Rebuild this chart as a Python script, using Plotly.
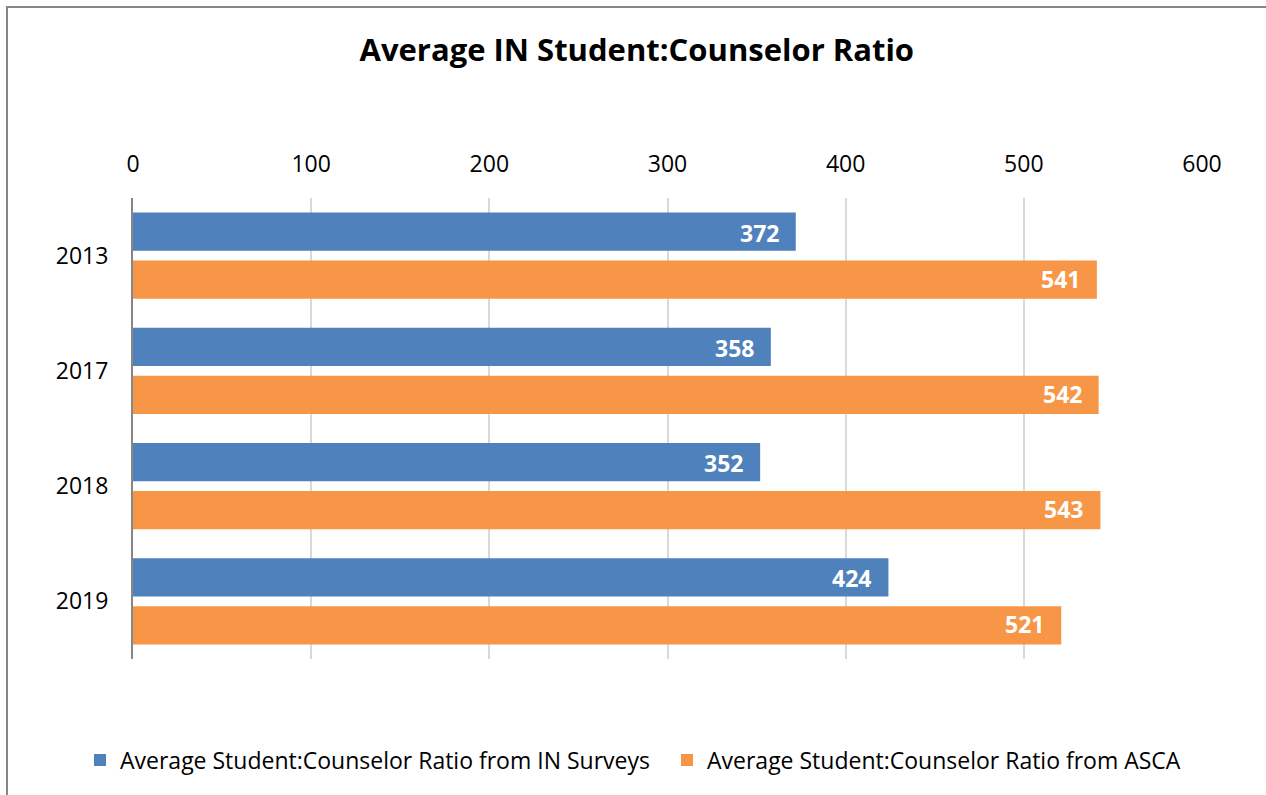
import plotly.graph_objects as go

years = ["2013", "2017", "2018", "2019"]
in_surveys = [372, 358, 352, 424]
asca = [541, 542, 543, 521]
series_names = [
    "Average Student:Counselor Ratio from IN Surveys",
    "Average Student:Counselor Ratio from ASCA",
]
x_ticks = [0, 100, 200, 300, 400, 500, 600]

BLUE = "#4F81BD"
ORANGE = "#F79646"
FONT = "Open Sans, sans-serif"

fig = go.Figure()
for name, vals, color, lg in [(series_names[0], in_surveys, BLUE, "legend"),
                              (series_names[1], asca, ORANGE, "legend2")]:
    fig.add_trace(go.Bar(
        y=years, x=vals, name=name, orientation="h",
        marker=dict(color=color, line=dict(width=0)),
        hoverinfo="x+y", legend=lg, showlegend=True,
    ))

# value labels just inside the end of each bar
offsets = {series_names[0]: -0.2, series_names[1]: 0.2}
annotations = []
for name, vals in [(series_names[0], in_surveys), (series_names[1], asca)]:
    for i, v in enumerate(vals):
        annotations.append(dict(
            x=v, y=i + offsets[name], xref="x", yref="y",
            text=f"<b>{v}</b>", showarrow=False,
            xanchor="right", yanchor="middle", xshift=-15,
            font=dict(family=FONT, size=23, color="white"),
        ))

legend_style = dict(
    orientation="h", xanchor="left", xref="container",
    y=-(760 - 659) / 461, yanchor="middle",
    font=dict(family=FONT, size=23, color="black"),
    itemwidth=30, bgcolor="rgba(0,0,0,0)", visible=True,
)

fig.update_layout(
    width=1266, height=795,
    margin=dict(l=133, r=64, t=198, b=136, autoexpand=False),
    paper_bgcolor="white", plot_bgcolor="white",
    title=dict(
        text="<b>Average IN Student:Counselor Ratio</b>",
        x=0.503, xref="container", xanchor="center",
        y=1 - 50 / 795, yref="container", yanchor="middle",
        font=dict(family=FONT, size=31, color="black"),
    ),
    barmode="group", bargap=0.167, bargroupgap=0.208,
    xaxis=dict(
        side="top", range=[0, 600], tickvals=x_ticks,
        showgrid=True, gridcolor="#D9D9D9", gridwidth=1.5,
        zeroline=False, showline=False, ticks="",
        tickfont=dict(family=FONT, size=23, color="black"),
        ticklabelstandoff=20, fixedrange=True, automargin=False,
    ),
    yaxis=dict(
        type="category", categoryorder="array", categoryarray=years,
        autorange="reversed",
        showline=True, linecolor="#868686", linewidth=2,
        showgrid=False, ticks="",
        tickfont=dict(family=FONT, size=23, color="black"),
        ticklabelstandoff=18, fixedrange=True, automargin=False,
    ),
    legend=dict(legend_style, x=80 / 1266),
    legend2=dict(legend_style, x=667 / 1266),
    annotations=annotations,
    shapes=[dict(
        type="rect", xref="paper", yref="paper",
        x0=(7 - 133) / 1069, x1=1.3, y0=-0.5, y1=1 + (198 - 7) / 461,
        line=dict(color="#868686", width=2), fillcolor="rgba(0,0,0,0)",
        layer="below",
    )],
)

fig.write_html("out.html")
